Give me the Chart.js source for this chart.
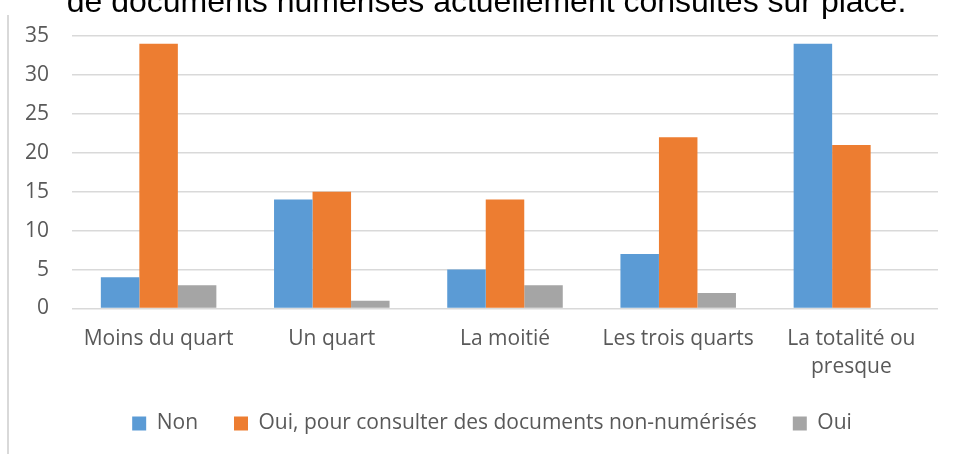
<!DOCTYPE html>
<html>
<head>
<meta charset="utf-8">
<script src="https://cdn.jsdelivr.net/npm/chart.js@4.4.0/dist/chart.umd.min.js"></script>
<style>
html, body { margin: 0; padding: 0; background: #fff; overflow: hidden; }
#wrap { position: relative; width: 955px; height: 454px; overflow: hidden; }
#titre {
    position: absolute; left: 0; top: -15px; width: 973px;
    text-align: center; white-space: nowrap;
    font-family: "Liberation Sans", Arial, sans-serif;
    font-size: 32px; line-height: 32px; color: #000;
}
#cadre { position: absolute; left: 7px; top: 15px; width: 2px; height: 439px; background: #d9d9d9; }
canvas { position: absolute; left: 0; top: 0; }
</style>
</head>
<body>
<div id="wrap">
    <canvas id="graphique" width="955" height="454"></canvas>
    <div id="cadre"></div>
    <div id="titre">de documents numérisés actuellement consultés sur place.</div>
</div>
<script>
// données
const categories = ['Moins du quart', 'Un quart', 'La moitié', 'Les trois quarts', ['La totalité ou', 'presque']];
const serieNon = [4, 14, 5, 7, 34];
const serieOuiNonNumerises = [34, 15, 14, 22, 21];
const serieOui = [3, 1, 3, 2, 0];
const nomsSeries = ['Non', 'Oui, pour consulter des documents non-numérisés', 'Oui'];
const couleurs = ['#5B9BD5', '#ED7D31', '#A5A5A5'];
const ticksY = [0, 5, 10, 15, 20, 25, 30, 35];

const police = '"Open Sans", "Noto Sans", sans-serif';
const gris = '#595959';

// la légende Excel est centrée un peu plus à droite et remonte vers les libellés
const placementLegende = {
    id: 'placementLegende',
    afterLayout(chart) {
        const leg = chart.legend;
        if (!leg) return;
        leg.left += 46;
        leg.top -= 10;
        leg.bottom -= 10;
    }
};

const ctx = document.getElementById('graphique').getContext('2d');

const graphique = new Chart(ctx, {
    type: 'bar',
    data: {
        labels: categories,
        datasets: [serieNon, serieOuiNonNumerises, serieOui].map((valeurs, i) => ({
            label: nomsSeries[i],
            data: valeurs,
            backgroundColor: couleurs[i],
            borderWidth: 0,
            categoryPercentage: 0.667,
            barPercentage: 1.0
        }))
    },
    options: {
        responsive: false,
        devicePixelRatio: 1,
        animation: false,
        layout: {
            padding: { top: 36, right: 17, bottom: 0, left: 0 }
        },
        plugins: {
            title: { display: false },
            tooltip: { enabled: false },
            legend: {
                position: 'bottom',
                labels: {
                    color: gris,
                    font: { family: police, size: 21 },
                    boxWidth: 14,
                    boxHeight: 14,
                    padding: 36
                }
            }
        },
        scales: {
            x: {
                grid: { display: false, drawTicks: false },
                border: { display: false },
                ticks: {
                    color: gris,
                    font: { family: police, size: 21, lineHeight: 1.333 },
                    padding: 17,
                    maxRotation: 0,
                    autoSkip: false
                },
                afterFit: scale => { scale.height = 78.5; }
            },
            y: {
                min: 0,
                max: 35,
                afterBuildTicks: scale => { scale.ticks = ticksY.map(v => ({ value: v })); },
                grid: { color: '#d9d9d9', lineWidth: 1.5, drawTicks: false },
                border: { display: false },
                ticks: {
                    color: gris,
                    font: { family: police, size: 21 },
                    padding: 23
                },
                afterFit: scale => { scale.width = 72; }
            }
        }
    },
    plugins: [placementLegende]
});
</script>
</body>
</html>
